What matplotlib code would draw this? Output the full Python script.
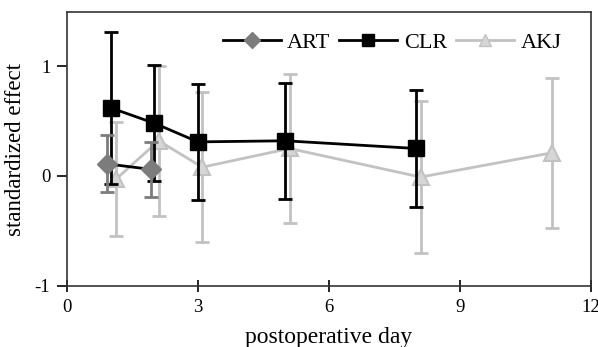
import matplotlib.pyplot as plt
from matplotlib.lines import Line2D

plt.rcParams['font.family'] = ['Liberation Serif', 'DejaVu Serif']
plt.rcParams['axes.unicode_minus'] = False

# ART
art_x = [0.92, 1.92]
art_y = [0.11, 0.06]
art_err = [0.26, 0.25]
# CLR
clr_x = [1, 2, 3, 5, 8]
clr_y = [0.62, 0.48, 0.31, 0.32, 0.25]
clr_err = [0.69, 0.53, 0.53, 0.53, 0.53]
# AKJ
akj_x = [1.12, 2.1, 3.1, 5.1, 8.1, 11.1]
akj_y = [-0.03, 0.32, 0.08, 0.25, -0.01, 0.21]
akj_err = [0.52, 0.68, 0.68, 0.68, 0.69, 0.68]

art_c = '#7c7c7c'
akj_c = '#c2c2c2'
akj_face = '#d6d6d6'

fig = plt.figure(figsize=(5.98, 3.47), dpi=100)
ax = fig.add_axes([0.112, 0.176, 0.876, 0.789])

# AKJ
ax.errorbar(akj_x, akj_y, yerr=akj_err, fmt='none', ecolor=akj_c,
            elinewidth=2, capsize=5, capthick=2)
ax.plot(akj_x, akj_y, color=akj_c, lw=2, marker='^', markersize=12,
        markerfacecolor=akj_face, markeredgecolor=akj_c, markeredgewidth=1.5)
# CLR
ax.errorbar(clr_x, clr_y, yerr=clr_err, fmt='none', ecolor='black',
            elinewidth=2, capsize=5, capthick=2)
ax.plot(clr_x, clr_y, color='black', lw=2, marker='s', markersize=12)
# ART
ax.errorbar(art_x, art_y, yerr=art_err, fmt='none', ecolor=art_c,
            elinewidth=2, capsize=5, capthick=2)
ax.plot(art_x, art_y, color='black', lw=2, marker='D', markersize=10,
        markerfacecolor=art_c, markeredgecolor=art_c)

ax.set_xlim(0, 12)
ax.set_ylim(-1, 1.49)
ax.set_xticks([0, 3, 6, 9, 12])
ax.set_yticks([-1, 0, 1])
ax.tick_params(axis='x', direction='inout', length=9, width=1.2, labelsize=13.5, pad=5)
ax.tick_params(axis='y', direction='out', length=7, width=1.2, labelsize=13.5, pad=5)
for s in ax.spines.values():
    s.set_linewidth(1.2)
    s.set_color('#333333')

ax.set_xlabel('postoperative day', fontsize=17, labelpad=8)
ax.set_ylabel('standardized effect', fontsize=16.5, labelpad=6)

h = [Line2D([], [], color='black', lw=2, marker='D', markersize=8,
            markerfacecolor=art_c, markeredgecolor=art_c),
     Line2D([], [], color='black', lw=2, marker='s', markersize=9),
     Line2D([], [], color=akj_c, lw=2, marker='^', markersize=9,
            markerfacecolor=akj_face, markeredgecolor=akj_c)]
ax.legend(h, ['ART', 'CLR', 'AKJ'], ncol=3, loc='upper right',
          bbox_to_anchor=(0.982, 1.0), frameon=False, fontsize=16,
          handlelength=2.6, handletextpad=0.3, columnspacing=0.4)

fig.savefig('out.png', dpi=100)
